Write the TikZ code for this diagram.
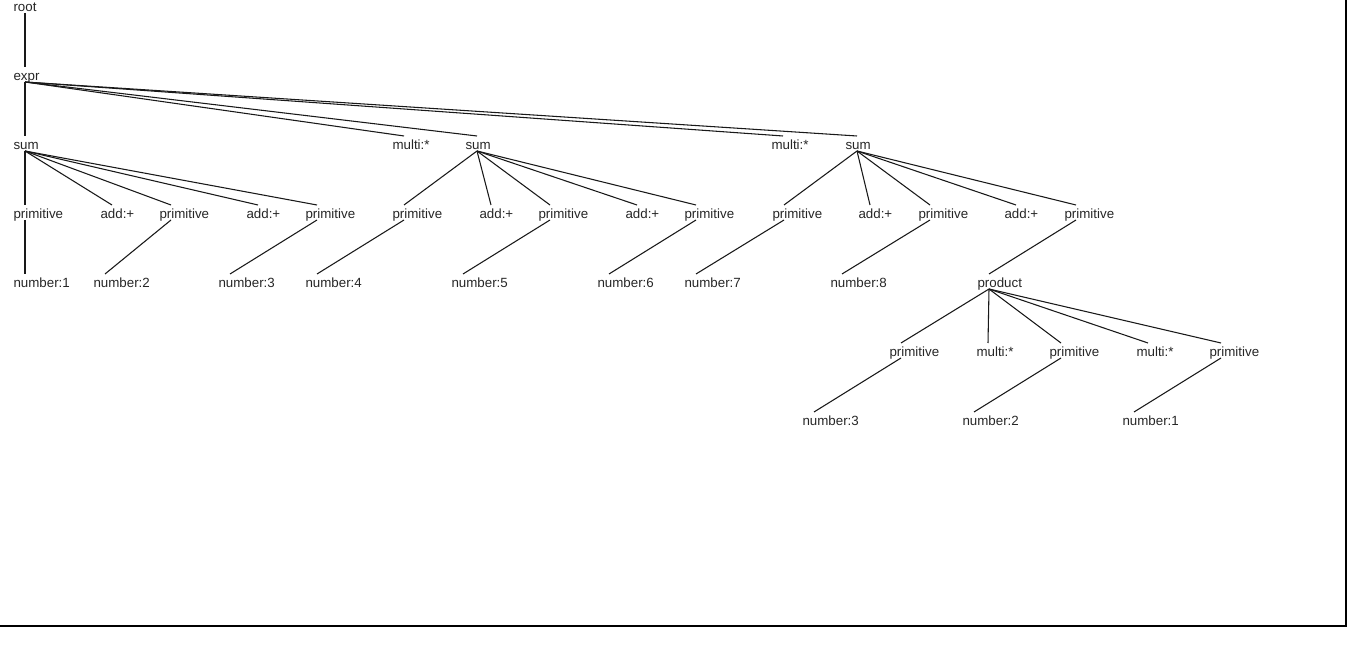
\documentclass[tikz,border=0pt]{standalone}
\usepackage{fontspec}
\setmainfont{Liberation Sans}
\usepackage{tikz}
\usetikzlibrary{positioning,calc}

\begin{document}
\begin{tikzpicture}[x=0.75pt, y=-0.75pt, thick]
  \tikzstyle{lbl} = [anchor=base west, inner sep=0pt, font=\fontsize{10pt}{12pt}\selectfont, text=black!85]
  \tikzstyle{edge} = [draw=black!90, line width=0.8pt]
  \useasboundingbox (0,0) rectangle (1352,655);

  % frame
  \draw[line width=1.5pt] (0,626) -- (1346,626) -- (1346,0);

  % top
  \node[lbl] (root) at (13,12) {root};
  \node[lbl] (expr) at (13,81) {expr};

  % level of sums
  \node[lbl] (s1) at (13,150) {sum};
  \node[lbl] (m1) at (392,150) {multi:*};
  \node[lbl] (s2) at (465,150) {sum};
  \node[lbl] (m2) at (771,150) {multi:*};
  \node[lbl] (s3) at (845,150) {sum};

  % primitives
  \node[lbl] (p1) at (13,219) {primitive};
  \node[lbl] (a1) at (100,219) {add:+};
  \node[lbl] (p2) at (159,219) {primitive};
  \node[lbl] (a2) at (246,219) {add:+};
  \node[lbl] (p3) at (305,219) {primitive};
  \node[lbl] (p4) at (392,219) {primitive};
  \node[lbl] (a3) at (479,219) {add:+};
  \node[lbl] (p5) at (538,219) {primitive};
  \node[lbl] (a4) at (625,219) {add:+};
  \node[lbl] (p6) at (684,219) {primitive};
  \node[lbl] (p7) at (772,219) {primitive};
  \node[lbl] (a5) at (858,219) {add:+};
  \node[lbl] (p8) at (918,219) {primitive};
  \node[lbl] (a6) at (1004,219) {add:+};
  \node[lbl] (p9) at (1064,219) {primitive};

  % numbers
  \node[lbl] (n1) at (13,288) {number:1};
  \node[lbl] (n2) at (93,288) {number:2};
  \node[lbl] (n3) at (218,288) {number:3};
  \node[lbl] (n4) at (305,288) {number:4};
  \node[lbl] (n5) at (451,288) {number:5};
  \node[lbl] (n6) at (597,288) {number:6};
  \node[lbl] (n7) at (684,288) {number:7};
  \node[lbl] (n8) at (830,288) {number:8};
  \node[lbl] (prod) at (977,288) {product};

  % inside product
  \node[lbl] (q1) at (889,357) {primitive};
  \node[lbl] (m3) at (976,357) {multi:*};
  \node[lbl] (q2) at (1049,357) {primitive};
  \node[lbl] (m4) at (1136,357) {multi:*};
  \node[lbl] (q3) at (1209,357) {primitive};
  \node[lbl] (k3) at (802,426) {number:3};
  \node[lbl] (k2) at (962,426) {number:2};
  \node[lbl] (k1) at (1122,426) {number:1};

  \foreach \a/\b in {root/expr, expr/s1, expr/m1, expr/s2, expr/m2, expr/s3,
      s1/p1, s1/a1, s1/p2, s1/a2, s1/p3, p1/n1, p2/n2, p3/n3,
      s2/p4, s2/a3, s2/p5, s2/a4, s2/p6, p4/n4, p5/n5, p6/n6,
      s3/p7, s3/a5, s3/p8, s3/a6, s3/p9, p7/n7, p8/n8, p9/prod,
      prod/q1, prod/m3, prod/q2, prod/m4, prod/q3, q1/k3, q2/k2, q3/k1}
    \draw[edge] ([shift={(12,1)}]\a.base west) -- ([shift={(12,-14)}]\b.base west);
\end{tikzpicture}
\end{document}
